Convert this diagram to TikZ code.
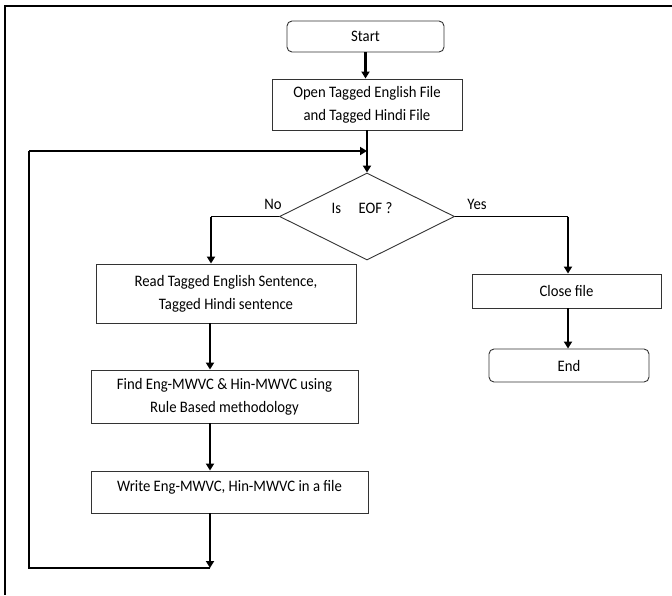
\documentclass[tikz,border=0pt]{standalone}
\usepackage{fontspec}
\setmainfont{Carlito}[FakeStretch=0.92]
\usetikzlibrary{positioning,arrows.meta,shapes.geometric}

\begin{document}
\begin{tikzpicture}[
  x=1pt, y=-1pt,
  >={Triangle[length=7pt,width=8pt]},
  box/.style={draw=black!80,line width=0.9pt,align=center,inner sep=0pt,
              font=\fontsize{16}{23}\selectfont},
  term/.style={box,rounded corners=5pt},
  flow/.style={->,line width=2.4pt},
  link/.style={line width=1.2pt},
  tag/.style={font=\fontsize{16}{23}\selectfont,inner sep=0pt}]
  \useasboundingbox (0,0) rectangle (672,595);
  % -- - frame -- -
  \draw[line width=1.5pt] (672,6) -- (5,6) -- (5,595);
  % -- - main column -- -
  \node[term, minimum width=157pt, minimum height=31pt] (start) at (365.5,36.5) {Start};
  \node[box, minimum width=190pt, minimum height=51pt] (open) at (367,104.5)
       {Open Tagged English File\\and Tagged Hindi File};
  \node[draw=black!80, line width=0.9pt, shape=diamond, aspect=2,
        minimum width=175pt, minimum height=87pt, inner sep=0pt] (dec) at (367,216.5) {};
  \node[tag] (eof) at (362,208) {Is\hspace{1.1em}EOF ?};
  \node[tag] (no) at (273,204) {No};
  \node[tag] (yes) at (477,204) {Yes};
  % -- - No side -- -
  \node[box, minimum width=260pt, minimum height=59pt] (read) at (226,293.5)
       {Read Tagged English Sentence,\\Tagged Hindi sentence};
  \node[box, minimum width=267pt, minimum height=53pt] (find) at (224.5,396.5)
       {Find Eng-MWVC \& Hin-MWVC using\\Rule Based methodology};
  \node[box, minimum width=277pt, minimum height=42pt, text depth=12pt] (write) at (229.5,492)
       {Write Eng-MWVC, Hin-MWVC in a file};
  % -- - Yes side -- -
  \node[box, minimum width=189pt, minimum height=34pt] (close) at (566.5,291) {Close file};
  \node[term, minimum width=160pt, minimum height=33pt] (end) at (569,365.5) {End};
  % -- - connectors -- -
  \coordinate (nb) at (211,216.5);
  \coordinate (yb) at (568,216.5);
  \coordinate (lp) at (210,568);
  \coordinate (lc) at (29,151);
  \draw[flow] (start) -- (start.south |- open.north);
  \draw[flow] (open) -- (dec.north);
  \draw[link] (dec.west) -- (nb);
  \draw[flow] (nb) -- (nb |- read.north);
  \draw[link] (dec.east) -- (yb);
  \draw[flow] (yb) -- (yb |- close.north);
  \draw[flow] (close.south -| yb) -- (end.north -| yb);
  \draw[flow] (read.south -| lp) -- (find.north -| lp);
  \draw[flow] (find.south -| lp) -- (write.north -| lp);
  \draw[flow] (write.south -| lp) -- (lp);
  \draw[link] (lp) -- (lp -| lc) -- (lc);
  \draw[flow] (lc) -- (lc -| dec.north);
\end{tikzpicture}
\end{document}
